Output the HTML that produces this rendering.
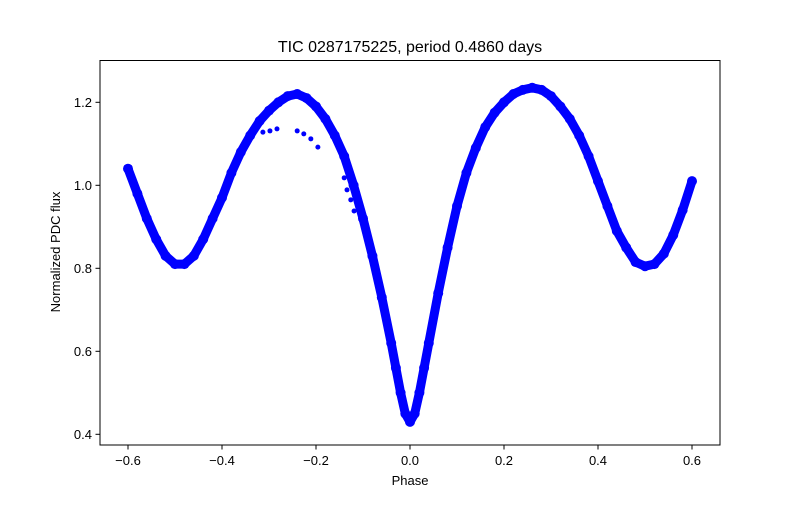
<!DOCTYPE html>
<html><head><meta charset="utf-8"><style>
body{margin:0;background:#fff;}
svg text{font-family:"Liberation Sans","DejaVu Sans",sans-serif;fill:#000;}
</style></head><body>
<svg id="chart" width="800" height="500" viewBox="0 0 800 500" xmlns="http://www.w3.org/2000/svg">
<rect width="800" height="500" fill="#fff"/>
<text x="410" y="52" font-size="16" text-anchor="middle">TIC 0287175225, period 0.4860 days</text>
<text x="410" y="485" font-size="13" text-anchor="middle">Phase</text>
<text transform="translate(60,252) rotate(-90)" font-size="13" text-anchor="middle">Normalized PDC flux</text>
<g id="marks"></g>
<g id="axes"></g>
<rect x="100" y="60.5" width="620" height="384.5" fill="none" stroke="#000" stroke-width="1"/>
</svg>
<script>
const phases = [-0.6,-0.58,-0.56,-0.54,-0.52,-0.5,-0.48,-0.46,-0.44,-0.42,-0.4,-0.38,-0.36,-0.34,-0.32,-0.3,-0.28,-0.26,-0.24,-0.22,-0.2,-0.18,-0.16,-0.14,-0.12,-0.1,-0.08,-0.06,-0.04,-0.03,-0.02,-0.01,0,0.01,0.02,0.03,0.04,0.06,0.08,0.1,0.12,0.14,0.16,0.18,0.2,0.22,0.24,0.26,0.28,0.3,0.32,0.34,0.36,0.38,0.4,0.42,0.44,0.46,0.48,0.5,0.52,0.54,0.56,0.58,0.6];
const fluxes = [1.04,0.98,0.92,0.87,0.83,0.81,0.81,0.83,0.87,0.92,0.97,1.03,1.08,1.12,1.155,1.18,1.2,1.215,1.22,1.21,1.19,1.16,1.12,1.07,1.0,0.92,0.83,0.73,0.62,0.56,0.5,0.45,0.43,0.45,0.5,0.56,0.62,0.74,0.85,0.95,1.03,1.09,1.14,1.175,1.2,1.22,1.23,1.235,1.23,1.215,1.19,1.16,1.12,1.07,1.01,0.95,0.89,0.85,0.815,0.805,0.81,0.835,0.88,0.94,1.01];
const outlierPhases = [-0.313,-0.298,-0.283,-0.24,-0.226,-0.211,-0.196,-0.14,-0.134,-0.126,-0.119];
const outlierFluxes = [1.128,1.131,1.136,1.131,1.124,1.112,1.092,1.018,0.989,0.965,0.938];
const xTicks = [-0.6,-0.4,-0.2,0.0,0.2,0.4,0.6];
const xTickLabels = ["−0.6","−0.4","−0.2","0.0","0.2","0.4","0.6"];
const yTicks = [0.4,0.6,0.8,1.0,1.2];
const yTickLabels = ["0.4","0.6","0.8","1.0","1.2"];

const NS="http://www.w3.org/2000/svg";
function xs(p){return 410+p*470;}
function ys(f){return 102.3+(1.2-f)*415;}
const marks=document.getElementById('marks');
const axes=document.getElementById('axes');

let d='';
for(let i=0;i<phases.length;i++){d+=(i?'L':'M')+xs(phases[i]).toFixed(1)+' '+ys(fluxes[i]).toFixed(1);}
const band=document.createElementNS(NS,'path');
band.setAttribute('d',d);
band.setAttribute('fill','none');band.setAttribute('stroke','#0000ff');
band.setAttribute('stroke-width','9');band.setAttribute('stroke-linejoin','round');band.setAttribute('stroke-linecap','round');


marks.appendChild(band);
for(let i=0;i<phases.length;i++){
  const c=document.createElementNS(NS,'circle');
  c.setAttribute('cx',xs(phases[i]));c.setAttribute('cy',ys(fluxes[i]));c.setAttribute('r','5');c.setAttribute('fill','#0000ff');
  
  
  marks.appendChild(c);
}
for(let i=0;i<outlierPhases.length;i++){
  const c=document.createElementNS(NS,'circle');
  c.setAttribute('cx',xs(outlierPhases[i]));c.setAttribute('cy',ys(outlierFluxes[i]));c.setAttribute('r','2.5');c.setAttribute('fill','#0000ff');
  
  
  marks.appendChild(c);
}
xTicks.forEach((t,i)=>{
  const x=xs(t);
  const l=document.createElementNS(NS,'line');
  l.setAttribute('x1',x);l.setAttribute('x2',x);l.setAttribute('y1',445);l.setAttribute('y2',449.5);l.setAttribute('stroke','#000');
  
  
  axes.appendChild(l);
  const tx=document.createElementNS(NS,'text');
  tx.setAttribute('x',x);tx.setAttribute('y',465);tx.setAttribute('font-size','13');tx.setAttribute('text-anchor','middle');
  tx.textContent=xTickLabels[i];
  
  
  axes.appendChild(tx);
});
yTicks.forEach((t,i)=>{
  const y=ys(t);
  const l=document.createElementNS(NS,'line');
  l.setAttribute('x1',95.5);l.setAttribute('x2',100);l.setAttribute('y1',y);l.setAttribute('y2',y);l.setAttribute('stroke','#000');
  
  
  axes.appendChild(l);
  const tx=document.createElementNS(NS,'text');
  tx.setAttribute('x',92);tx.setAttribute('y',y+4.5);tx.setAttribute('font-size','13');tx.setAttribute('text-anchor','end');
  tx.textContent=yTickLabels[i];
  
  
  axes.appendChild(tx);
});
</script>
</body></html>
